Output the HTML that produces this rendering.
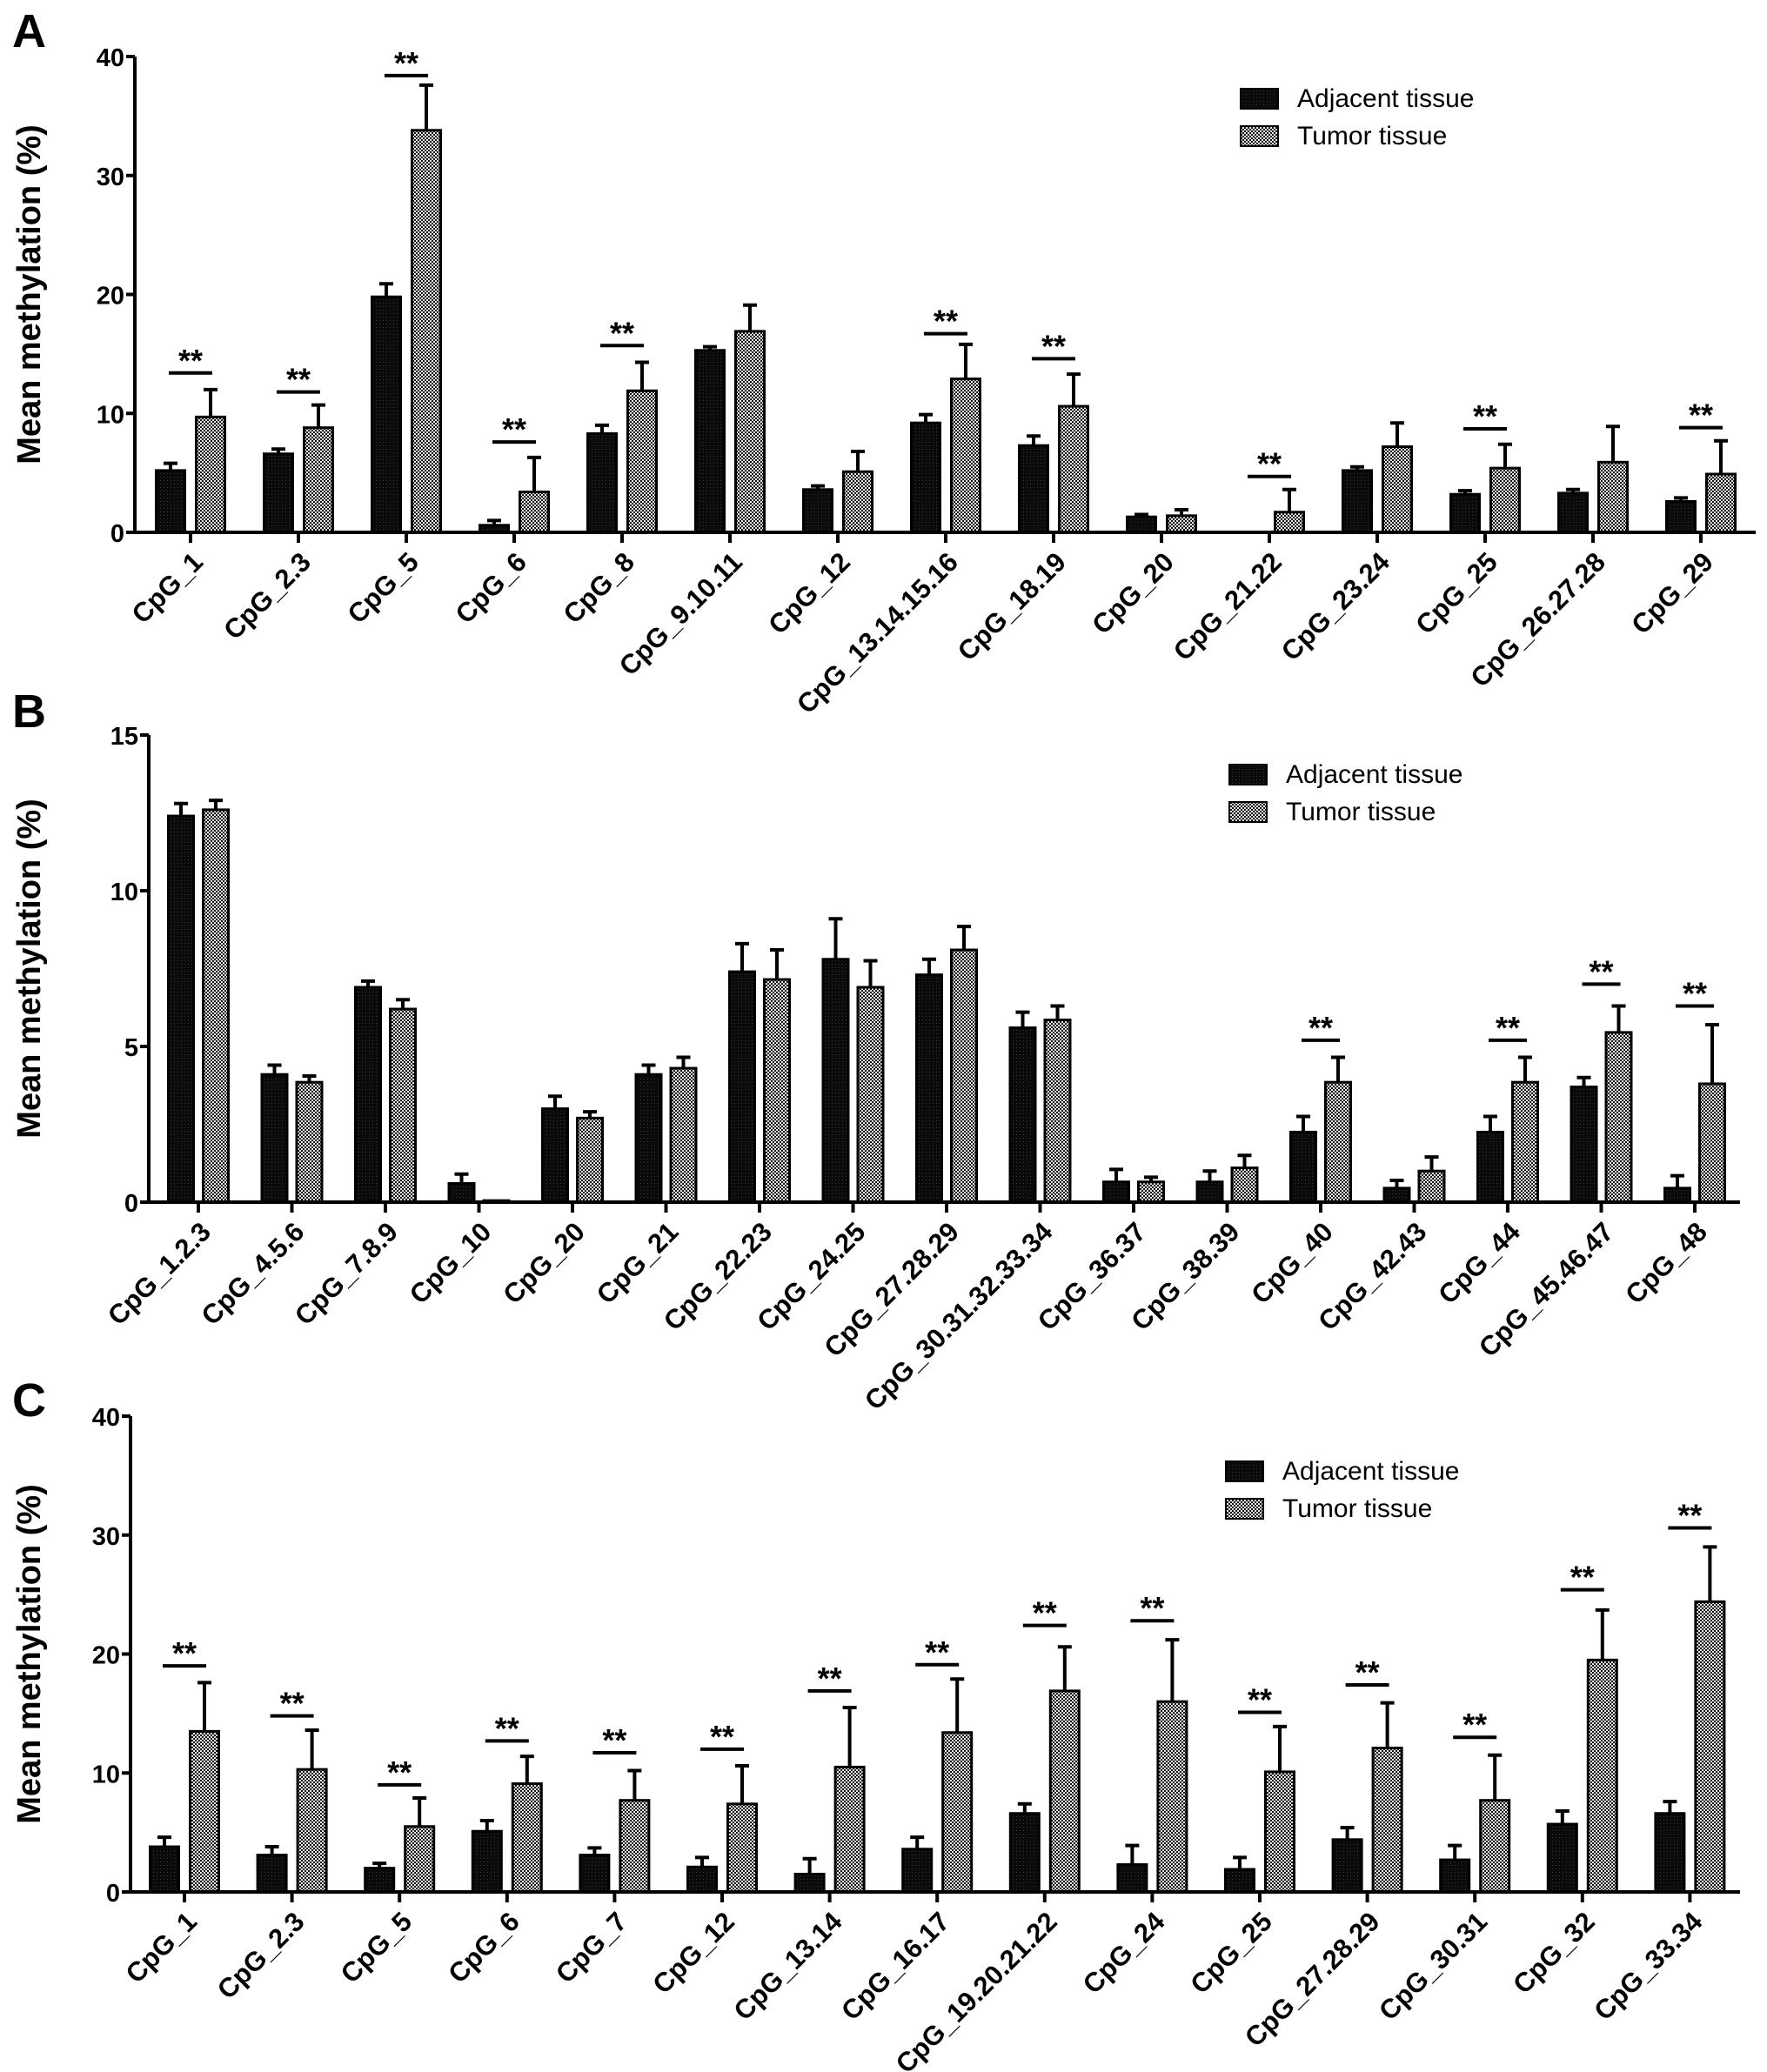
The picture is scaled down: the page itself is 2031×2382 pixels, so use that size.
<!DOCTYPE html>
<html><head><meta charset="utf-8"><style>
html,body{margin:0;padding:0;background:#fff}
svg{display:block}
text{font-family:"Liberation Sans",Arial,sans-serif}
</style></head><body>
<svg id="fig" width="2031" height="2382" viewBox="0 0 2031 2382" xmlns="http://www.w3.org/2000/svg">
<defs>
<pattern id="patAdj" width="4" height="4" patternUnits="userSpaceOnUse"><rect width="4" height="4" fill="#0a0a0a"/><rect x="0" y="0" width="1" height="1" fill="#3a3a3a"/></pattern>
<pattern id="patTum" width="4" height="4" patternUnits="userSpaceOnUse"><rect width="4" height="4" fill="#e8e8e8"/><rect x="0" y="0" width="2" height="2" fill="#111"/><rect x="2" y="2" width="2" height="2" fill="#111"/></pattern>
</defs>
</svg>
<script>
// Panel A data
const catsA = ["CpG_1","CpG_2.3","CpG_5","CpG_6","CpG_8","CpG_9.10.11","CpG_12","CpG_13.14.15.16","CpG_18.19","CpG_20","CpG_21.22","CpG_23.24","CpG_25","CpG_26.27.28","CpG_29"];
const adjA = [5.2,6.6,19.8,0.6,8.3,15.3,3.6,9.2,7.3,1.3,0,5.2,3.2,3.3,2.6];
const adjErrA = [0.6,0.4,1.1,0.4,0.7,0.3,0.3,0.7,0.8,0.2,0,0.3,0.3,0.3,0.3];
const tumA = [9.7,8.8,33.8,3.4,11.9,16.9,5.1,12.9,10.6,1.4,1.7,7.2,5.4,5.9,4.9];
const tumErrA = [2.3,1.9,3.8,2.9,2.4,2.2,1.7,2.9,2.7,0.5,1.9,2.0,2.0,3.0,2.8];
const sigA = [13.4,11.8,38.4,7.6,15.7,null,null,16.7,14.6,null,4.7,null,8.7,null,8.8];
const ticksA = [0,10,20,30,40];
// Panel B data
const catsB = ["CpG_1.2.3","CpG_4.5.6","CpG_7.8.9","CpG_10","CpG_20","CpG_21","CpG_22.23","CpG_24.25","CpG_27.28.29","CpG_30.31.32.33.34","CpG_36.37","CpG_38.39","CpG_40","CpG_42.43","CpG_44","CpG_45.46.47","CpG_48"];
const adjB = [12.4,4.1,6.9,0.6,3.0,4.1,7.4,7.8,7.3,5.6,0.65,0.65,2.25,0.45,2.25,3.7,0.45];
const adjErrB = [0.4,0.3,0.2,0.3,0.4,0.3,0.9,1.3,0.5,0.5,0.4,0.35,0.5,0.25,0.5,0.3,0.4];
const tumB = [12.6,3.85,6.2,0.05,2.7,4.3,7.15,6.9,8.1,5.85,0.65,1.1,3.85,1.0,3.85,5.45,3.8];
const tumErrB = [0.3,0.2,0.3,0,0.2,0.35,0.95,0.85,0.75,0.45,0.15,0.4,0.8,0.45,0.8,0.85,1.9];
const sigB = [null,null,null,null,null,null,null,null,null,null,null,null,5.2,null,5.2,7.0,6.3];
const ticksB = [0,5,10,15];
// Panel C data
const catsC = ["CpG_1","CpG_2.3","CpG_5","CpG_6","CpG_7","CpG_12","CpG_13.14","CpG_16.17","CpG_19.20.21.22","CpG_24","CpG_25","CpG_27.28.29","CpG_30.31","CpG_32","CpG_33.34"];
const adjC = [3.8,3.1,2.0,5.1,3.1,2.1,1.5,3.6,6.6,2.3,1.9,4.4,2.7,5.7,6.6];
const adjErrC = [0.8,0.7,0.4,0.9,0.6,0.8,1.3,1.0,0.8,1.6,1.0,1.0,1.2,1.1,1.0];
const tumC = [13.5,10.3,5.5,9.1,7.7,7.4,10.5,13.4,16.9,16.0,10.1,12.1,7.7,19.5,24.4];
const tumErrC = [4.1,3.3,2.4,2.3,2.5,3.2,5.0,4.5,3.7,5.2,3.8,3.8,3.8,4.2,4.6];
const sigC = [19.0,14.8,9.0,12.7,11.7,12.0,16.9,19.1,22.4,22.8,15.1,17.4,13.0,25.4,30.6];
const ticksC = [0,10,20,30,40];

const NS="http://www.w3.org/2000/svg";
const svg=document.getElementById('fig');
function mk(tag,attrs,parent){const e=document.createElementNS(NS,tag);for(const k in attrs)e.setAttribute(k,attrs[k]);(parent||svg).appendChild(e);return e;}

function panel(letter,letterY,cfg,cats,adj,adjErr,tum,tumErr,sig,ticks){
  const g=mk('g',{});
  
  
  const ymax=ticks[ticks.length-1];
  const yS=v=>cfg.y0-(cfg.y0-cfg.yTop)*v/ymax;
  const xS=i=>cfg.x1+cfg.step*i;
  const L=mk('text',{x:14,y:letterY,'font-size':54,'font-weight':'bold'},g);L.textContent=letter;
  
  
  const midY=(cfg.y0+cfg.yTop)/2;
  const yt=mk('text',{x:0,y:0,'font-size':38,'font-weight':'bold','text-anchor':'middle',transform:`translate(46,${midY}) rotate(-90)`},g);
  yt.textContent='Mean methylation (%)';
  
  
  cats.forEach((c,i)=>{
    const cx=xS(i);
    [[adj,adjErr,-1,'url(#patAdj)','adjacent'],[tum,tumErr,1,'url(#patTum)','tumor']].forEach(([vals,errs,s,fill,nm])=>{
      const v=vals[i];const bx=cx+s*cfg.off-cfg.bw/2;
      const top=yS(v);
      if(v>0){
        const r=mk('rect',{x:bx,y:top,width:cfg.bw,height:cfg.y0-top,fill:fill,stroke:'#000','stroke-width':3},g);
        
        
      }
      const e=errs[i];
      if(e>0){
        const et=yS(v+e);const ex=cx+s*cfg.off;
        const l=mk('path',{d:`M${ex},${top} V${et} M${ex-8},${et} H${ex+8}`,stroke:'#000','stroke-width':4,fill:'none'},g);
        
        
      }
    });
    mk('line',{x1:cx,y1:cfg.y0,x2:cx,y2:cfg.y0+12,stroke:'#000','stroke-width':4},g);
    const t=mk('text',{x:0,y:0,'font-size':31,'font-weight':'bold','text-anchor':'end',transform:`translate(${cx+16},${cfg.y0+36}) rotate(-45)`},g);
    t.textContent=c;
    
    
    if(sig[i]!=null){
      const sy=yS(sig[i]);
      const b=mk('line',{x1:cx-cfg.off-2,y1:sy,x2:cx+cfg.off+2,y2:sy,stroke:'#000','stroke-width':4},g);
      
      
      const st=mk('text',{x:cx,y:sy-2,'font-size':36,'font-weight':'bold','text-anchor':'middle'},g);
      st.textContent='**';
      
      
    }
  });
  const ax=mk('path',{d:`M${cfg.x0},${cfg.yTop} V${cfg.y0} H${cfg.xEnd}`,stroke:'#000','stroke-width':4,fill:'none'},g);
  
  
  ticks.forEach(tv=>{
    const y=yS(tv);
    mk('line',{x1:cfg.x0-10,y1:y,x2:cfg.x0,y2:y,stroke:'#000','stroke-width':4},g);
    const tl=mk('text',{x:cfg.x0-12,y:y+11,'font-size':29,'font-weight':'bold','text-anchor':'end'},g);
    tl.textContent=tv;
    
    
  });
  const lg=mk('g',{},g);
  
  
  [['url(#patAdj)','Adjacent tissue',0],['url(#patTum)','Tumor tissue',1]].forEach(([f,txt,k])=>{
    const y=cfg.legY+k*43;
    mk('rect',{x:cfg.legX,y:y,width:43,height:23,fill:f,stroke:'#000','stroke-width':2},lg);
    const tt=mk('text',{x:cfg.legX+65,y:y+21,'font-size':30},lg);
    tt.textContent=txt;
    
    
  });
}

panel('A',54,{x0:155,y0:612,yTop:65,x1:219,step:124,off:23,bw:33,xEnd:2018,legX:1426,legY:102},catsA,adjA,adjErrA,tumA,tumErrA,sigA,ticksA);
panel('B',836,{x0:171,y0:1382,yTop:845,x1:228,step:107.5,off:20,bw:29,xEnd:2000,legX:1413,legY:879},catsB,adjB,adjErrB,tumB,tumErrB,sigB,ticksB);
panel('C',1628,{x0:150,y0:2175,yTop:1628,x1:212,step:123.6,off:23,bw:33,xEnd:2000,legX:1409,legY:1680},catsC,adjC,adjErrC,tumC,tumErrC,sigC,ticksC);
</script>
</body></html>
